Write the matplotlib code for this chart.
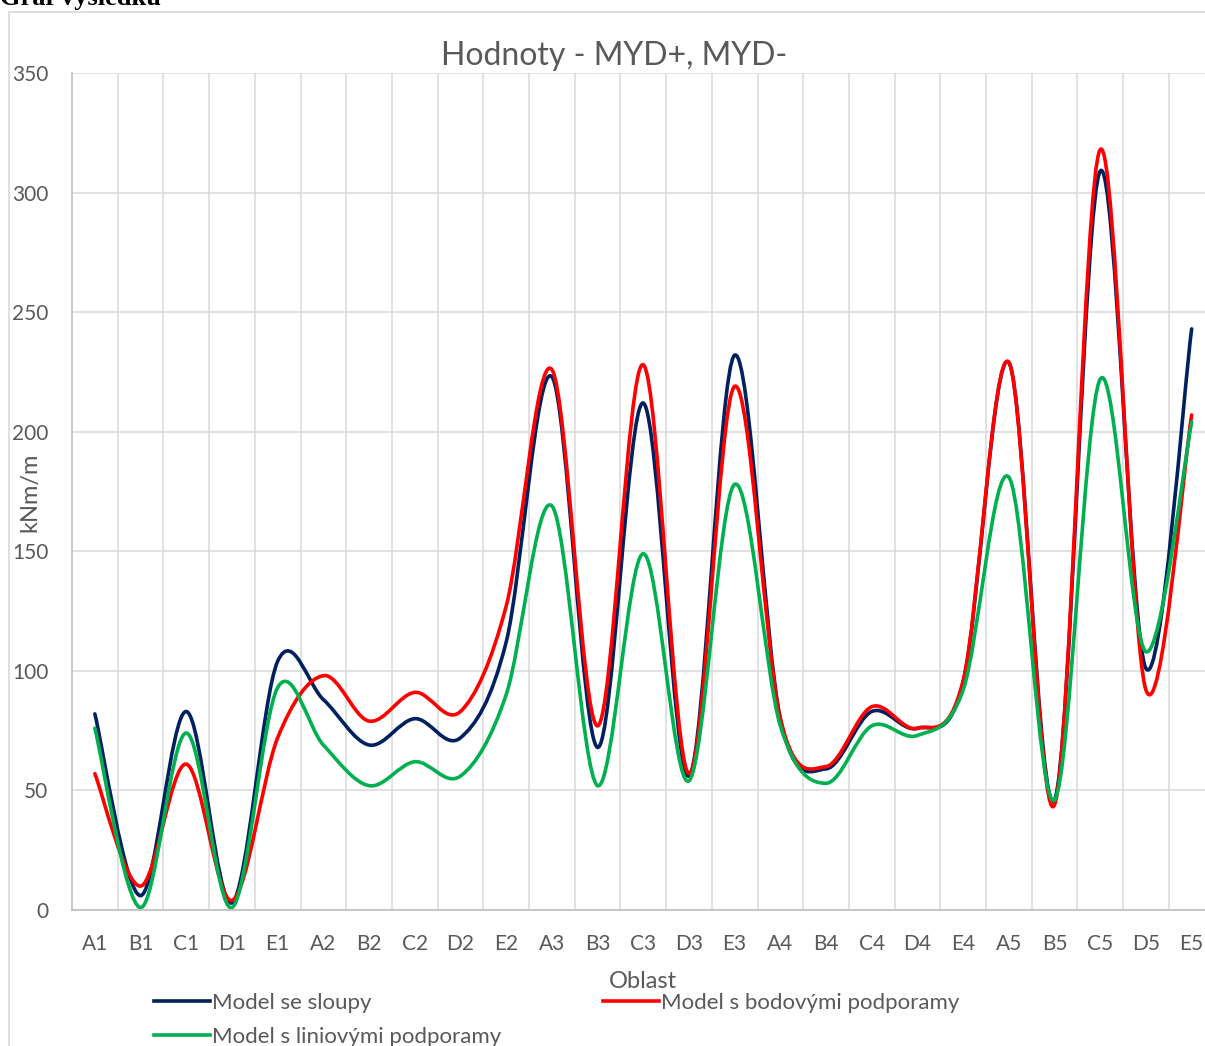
#!/usr/bin/env python
# Hodnoty MYD+, MYD- : three smoothed result lines over areas A1..E5

import matplotlib
matplotlib.use("Agg")
import matplotlib.pyplot as plt
from matplotlib.path import Path
from matplotlib.patches import PathPatch, Rectangle
from matplotlib.lines import Line2D
import numpy as np

plt.rcParams['font.family'] = ['Lato', 'DejaVu Sans']

# data
oblast = ["A1", "B1", "C1", "D1", "E1", "A2", "B2", "C2", "D2", "E2",
          "A3", "B3", "C3", "D3", "E3", "A4", "B4", "C4", "D4", "E4",
          "A5", "B5", "C5", "D5", "E5"]
sloupy = [82, 6, 83, 3, 104, 88, 69, 80, 72, 112,
          223, 68, 212, 56, 232, 80, 59, 83, 76, 95,
          229, 46, 309, 101, 243]
bodove = [57, 10, 61, 4, 72, 98, 79, 91, 83, 127,
          226, 77, 228, 57, 219, 80, 60, 85, 76, 96,
          229, 44, 318, 92, 207]
liniove = [76, 1, 74, 1, 93, 69, 52, 62, 56, 90,
           169, 52, 149, 54, 178, 77, 53, 77, 73, 92,
           181, 46, 222, 108, 204]

series = [("Model se sloupy", sloupy, "#002060"),
          ("Model s bodovými podporamy", bodove, "#FF0000"),
          ("Model s liniovými podporamy", liniove, "#00B050")]

grey = "#595959"
W, H = 1205, 1046


def smooth_path(y):
    # excel-like smoothed line: cubic bezier with catmull-rom tangents
    x = np.arange(len(y), dtype=float)
    p = np.column_stack([x, np.asarray(y, dtype=float)])
    verts = [p[0]]
    codes = [Path.MOVETO]
    n = len(p)
    for i in range(n - 1):
        p0 = p[max(i - 1, 0)]
        p3 = p[min(i + 2, n - 1)]
        c1 = p[i] + (p[i + 1] - p0) / 6.0
        c2 = p[i + 1] - (p3 - p[i]) / 6.0
        verts += [c1, c2, p[i + 1]]
        codes += [Path.CURVE4] * 3
    return Path(verts, codes)


fig = plt.figure(figsize=(W / 100, H / 100), dpi=100)

# outer chart border (cut off on the right / bottom)
fig.patches.append(Rectangle((9 / W, -0.05), 1.2, 1 - 12 / H + 0.05,
                             transform=fig.transFigure, fill=False,
                             edgecolor="#d9d9d9", linewidth=1.2))

ax = fig.add_axes([72 / W, (H - 910) / H, 1142.5 / W, 837 / H])

for name, vals, col in series:
    ax.add_patch(PathPatch(smooth_path(vals), fill=False, edgecolor=col,
                           linewidth=2.6, capstyle='round', joinstyle='round'))

ax.set_xlim(-0.5, len(oblast) - 0.5)
ax.set_ylim(0, 350)
ax.set_yticks(np.arange(0, 351, 50))
ax.set_xticks(np.arange(len(oblast)))
ax.set_xticklabels(oblast)
ax.set_xticks(np.arange(len(oblast)) + 0.5, minor=True)
ax.tick_params(axis='both', which='both', length=0, labelsize=15,
               labelcolor=grey)
ax.tick_params(axis='y', pad=17)
ax.tick_params(axis='x', pad=17)
ax.grid(axis='y', which='major', color="#d9d9d9", linewidth=1.1)
ax.grid(axis='x', which='minor', color="#d9d9d9", linewidth=1.1)
ax.set_axisbelow(True)
for s in ["top", "right"]:
    ax.spines[s].set_visible(False)
for s in ["left", "bottom"]:
    ax.spines[s].set_color("#bfbfbf")
    ax.spines[s].set_linewidth(1.2)

# texts
fig.text(0.0, 1 - 5 / H, "Graf výsledků", family="Liberation Serif",
         weight="bold", fontsize=19, va="baseline", ha="left", color="black")
fig.text(614 / W, 1 - 56 / H, "Hodnoty - MYD+, MYD-", fontsize=23,
         color=grey, ha="center", va="center")
fig.text(30 / W, 1 - 492 / H, "kNm/m", fontsize=17, color=grey,
         rotation=90, ha="center", va="center")
fig.text(643 / W, 1 - 981 / H, "Oblast", fontsize=17, color=grey,
         ha="center", va="center")

# legend, filled row-wise
handles = [Line2D([], [], color=c, linewidth=2.6) for _, _, c in series]
labels = [n for n, _, _ in series]
order = [0, 2, 1]
fig.legend([handles[i] for i in order], [labels[i] for i in order],
           loc="upper left", bbox_to_anchor=(154 / W, 1 - 993 / H),
           ncol=2, frameon=False, fontsize=16, labelcolor=grey,
           handlelength=2.5, handletextpad=0.1, columnspacing=4.6,
           labelspacing=0.62, borderpad=0, borderaxespad=0)

fig.savefig("out.png", dpi=100)
